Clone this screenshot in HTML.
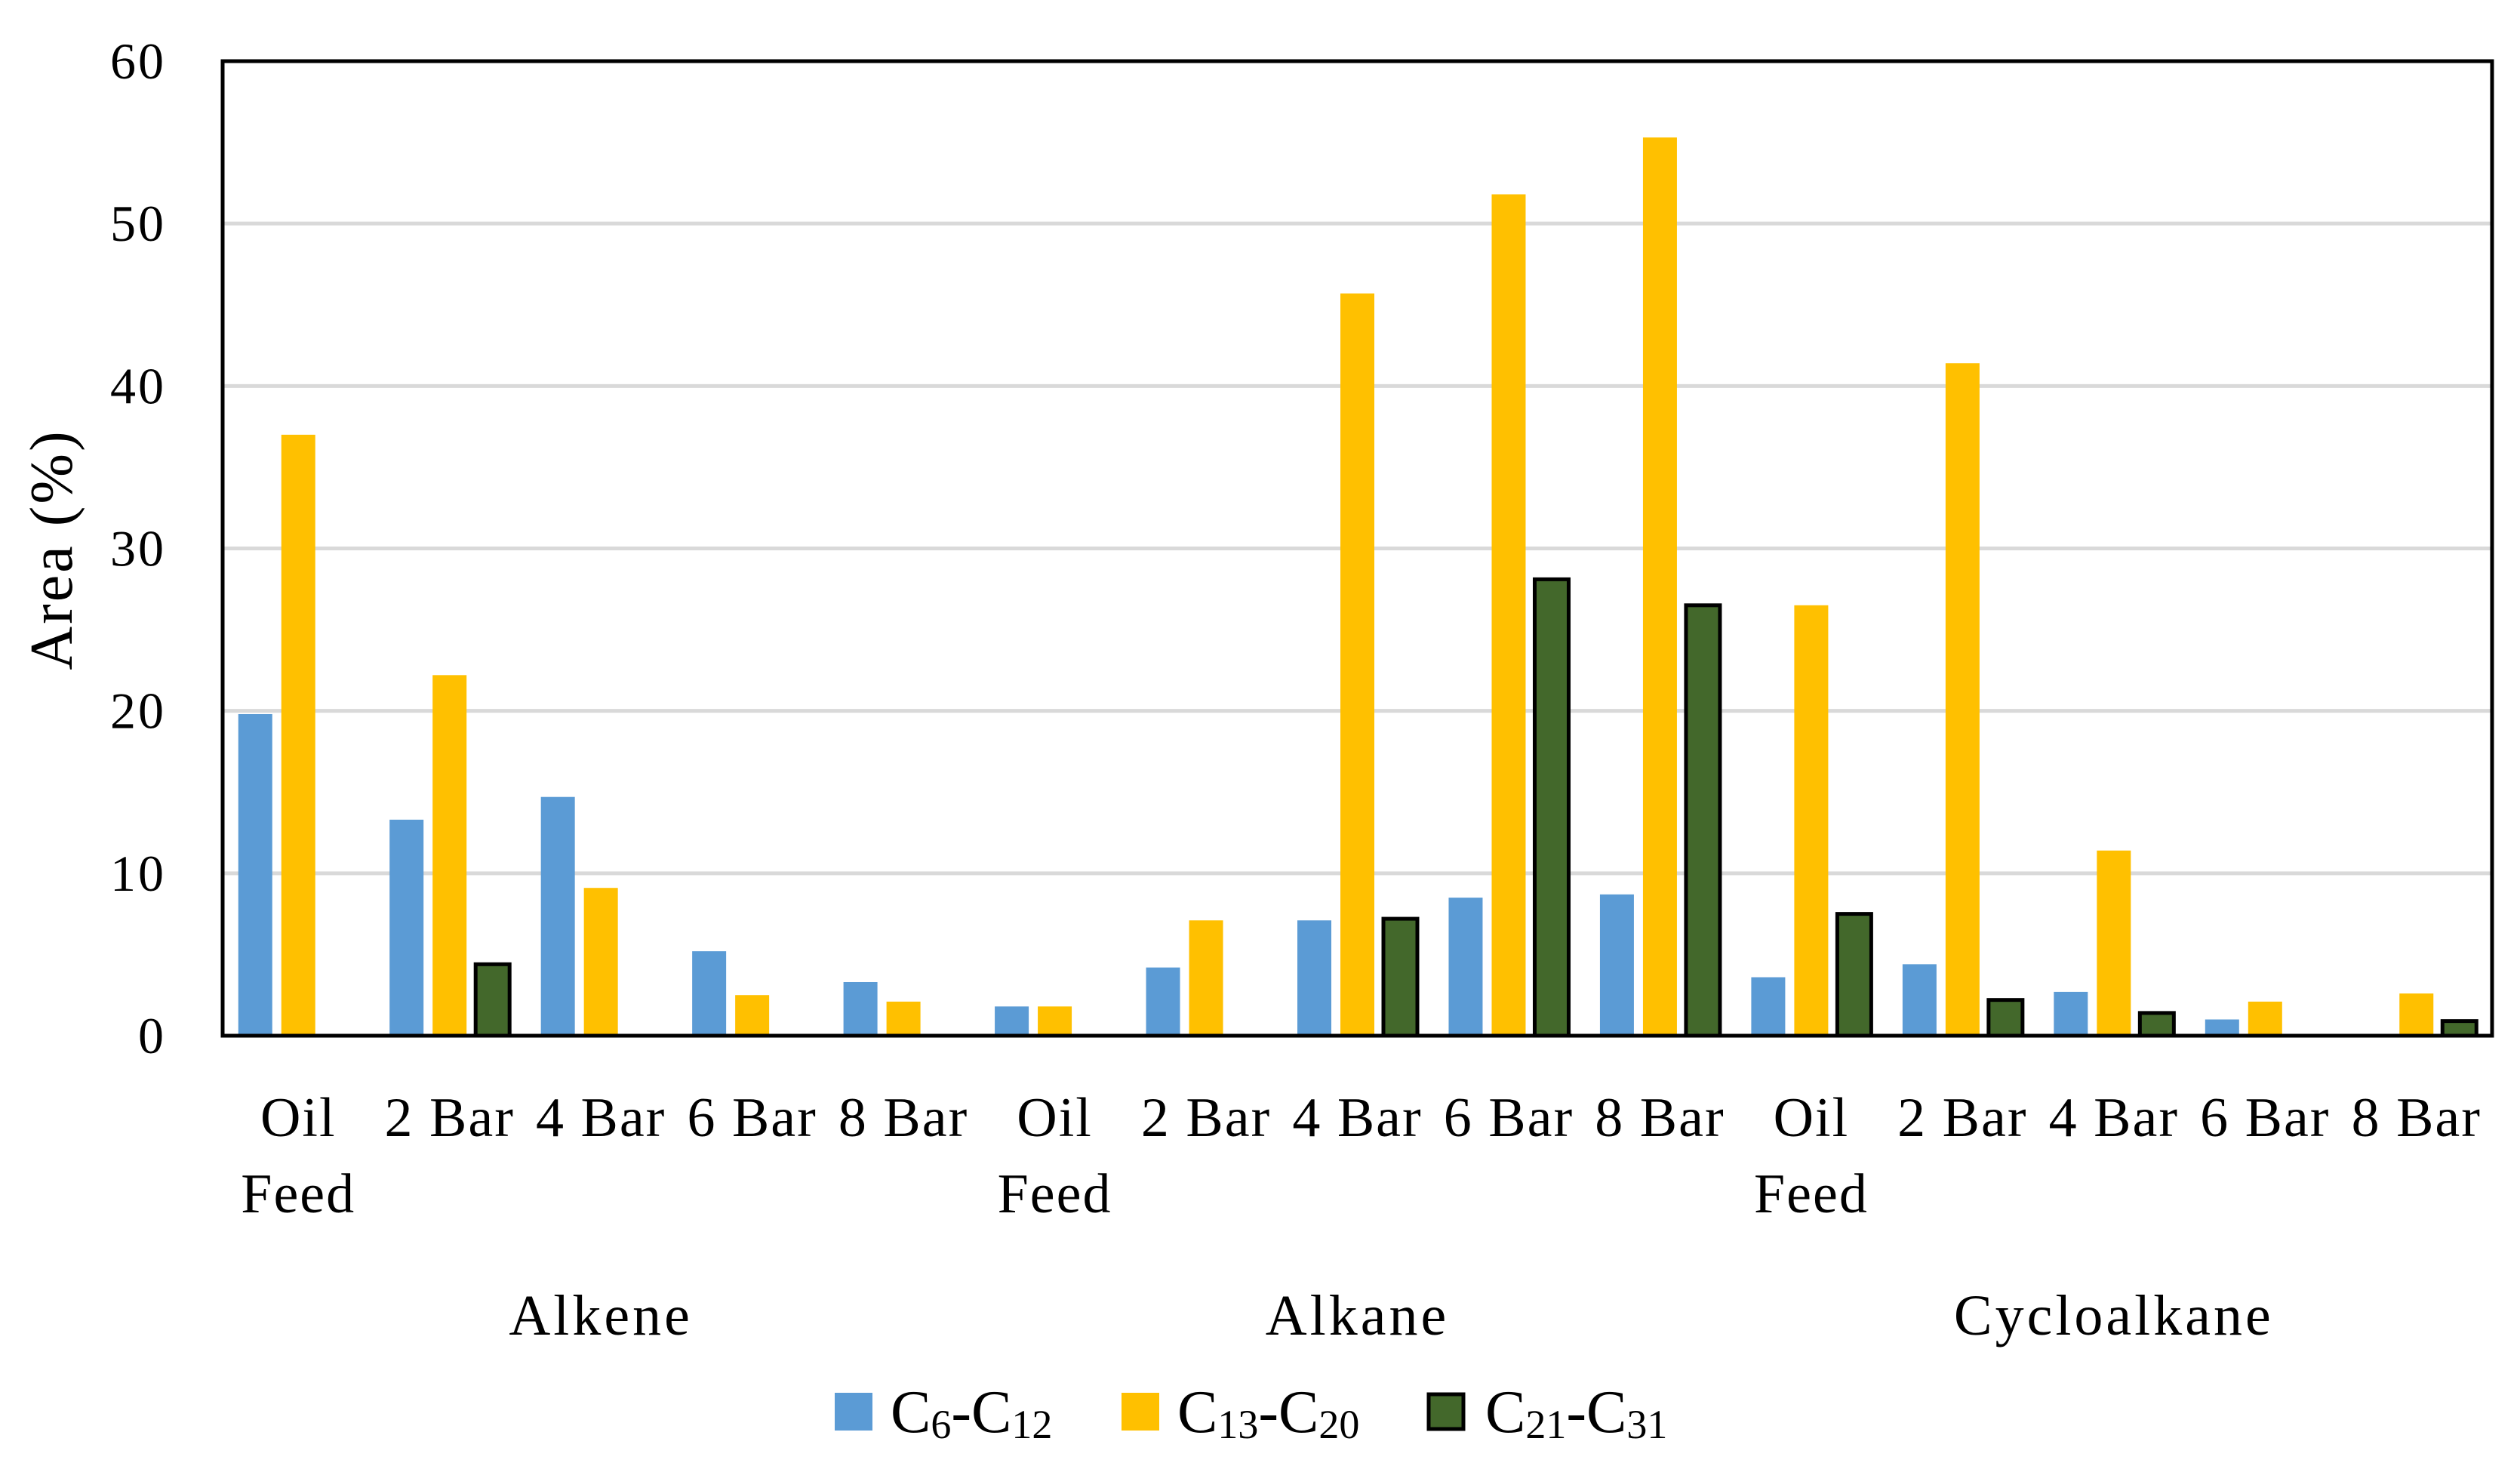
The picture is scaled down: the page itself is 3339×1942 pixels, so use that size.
<!DOCTYPE html>
<html><head><meta charset="utf-8"><style>
html,body{margin:0;padding:0;background:#fff;}
svg{display:block;font-family:"Liberation Serif","DejaVu Serif",serif;}
</style></head><body>
<svg id="chart" width="3339" height="1942" viewBox="0 0 3339 1942" xmlns="http://www.w3.org/2000/svg">
<rect x="0" y="0" width="3339" height="1942" fill="#fff"/>
<g id="grid"></g>
<g id="bars"></g>
<g id="axes"></g>
<g id="labels"></g>
<text transform="translate(95,728) rotate(-90)" text-anchor="middle" font-size="80" letter-spacing="3" fill="#000">Area (%)</text>
<g>
  <g>
    <rect x="1106" y="1845" width="50" height="50" fill="#5b9bd5"/>
    <text x="1180" y="1897" font-size="80">C<tspan font-size="54" dy="8">6</tspan><tspan dy="-8">-C</tspan><tspan font-size="54" dy="8">12</tspan></text>
  </g>
  <g>
    <rect x="1486" y="1845" width="50" height="50" fill="#ffc000"/>
    <text x="1560" y="1897" font-size="80">C<tspan font-size="54" dy="8">13</tspan><tspan dy="-8">-C</tspan><tspan font-size="54" dy="8">20</tspan></text>
  </g>
  <g>
    <rect x="1893" y="1847" width="46" height="46" fill="#43682b" stroke="#000" stroke-width="5"/>
    <text x="1968" y="1897" font-size="80">C<tspan font-size="54" dy="8">21</tspan><tspan dy="-8">-C</tspan><tspan font-size="54" dy="8">31</tspan></text>
  </g>
</g>
</svg>
<script>
const groups = ["Alkene","Alkane","Cycloalkane"];
const conditions = ["Oil Feed","2 Bar","4 Bar","6 Bar","8 Bar"];
const seriesC6 = [19.8,13.3,14.7,5.2,3.3, 1.8,4.2,7.1,8.5,8.7, 3.6,4.4,2.7,1.0,0];
const seriesC13 = [37.0,22.2,9.1,2.5,2.1, 1.8,7.1,45.7,51.8,55.3, 26.5,41.4,11.4,2.1,2.6];
const seriesC21 = [0,4.4,0,0,0, 0,0,7.2,28.1,26.5, 7.5,2.2,1.4,0,0.9];
const yTicks = [0,10,20,30,40,50,60];

const NS="http://www.w3.org/2000/svg";
const L=295,R=3302,T=81,B=1372,YMAX=60;
const n=groups.length*conditions.length;
const slot=(R-L)/n;
const y=v=>B-(v/YMAX)*(B-T);
const xc=i=>L+slot*(i+0.5);
function mk(tag,attrs,parent){const e=document.createElementNS(NS,tag);for(const k in attrs)e.setAttribute(k,attrs[k]);parent.appendChild(e);return e;}
const grid=document.getElementById('grid'),bars=document.getElementById('bars'),axes=document.getElementById('axes'),labels=document.getElementById('labels');

yTicks.forEach(t=>{
  if(t>0&&t<YMAX){const g=mk('line',{x1:L,x2:R,y1:y(t),y2:y(t),stroke:'#d9d9d9','stroke-width':5},grid);
  
  }
  const tx=mk('text',{x:220,y:y(t)+23,'text-anchor':'end','font-size':68,'letter-spacing':3},labels);
  tx.textContent=t;
  
  
});

const bw=45,pitch=57;
const series=[{d:seriesC6,c:'#5b9bd5',n:'c6-c12'},{d:seriesC13,c:'#ffc000',n:'c13-c20'},{d:seriesC21,c:'#43682b',n:'c21-c31',s:true}];
for(let i=0;i<n;i++){
  series.forEach((s,k)=>{
    const v=s.d[i]; if(v<=0) return;
    const cx=xc(i)+(k-1)*pitch;
    const a={x:cx-bw/2,y:y(v),width:bw,height:B-y(v),fill:s.c};
    if(s.s){a.stroke='#000';a['stroke-width']=5;}
    const r=mk('rect',a,bars);
    
    
  });
  const lab=conditions[i%conditions.length];
  const parts=lab==="Oil Feed"?["Oil","Feed"]:[lab];
  parts.forEach((p,j)=>{
    const t=mk('text',{x:xc(i),y:1505+j*101,'text-anchor':'middle','font-size':74,'letter-spacing':2},labels);
    t.textContent=p;
    
    
  });
}
groups.forEach((g,gi)=>{
  const cx=L+slot*conditions.length*(gi+0.5);
  const t=mk('text',{x:cx,y:1768,'text-anchor':'middle','font-size':76,'letter-spacing':4},labels);
  t.textContent=g;
  
  
});
const f=mk('rect',{x:L,y:T,width:R-L,height:B-T,fill:'none',stroke:'#000','stroke-width':5},axes);


</script>
</body></html>
